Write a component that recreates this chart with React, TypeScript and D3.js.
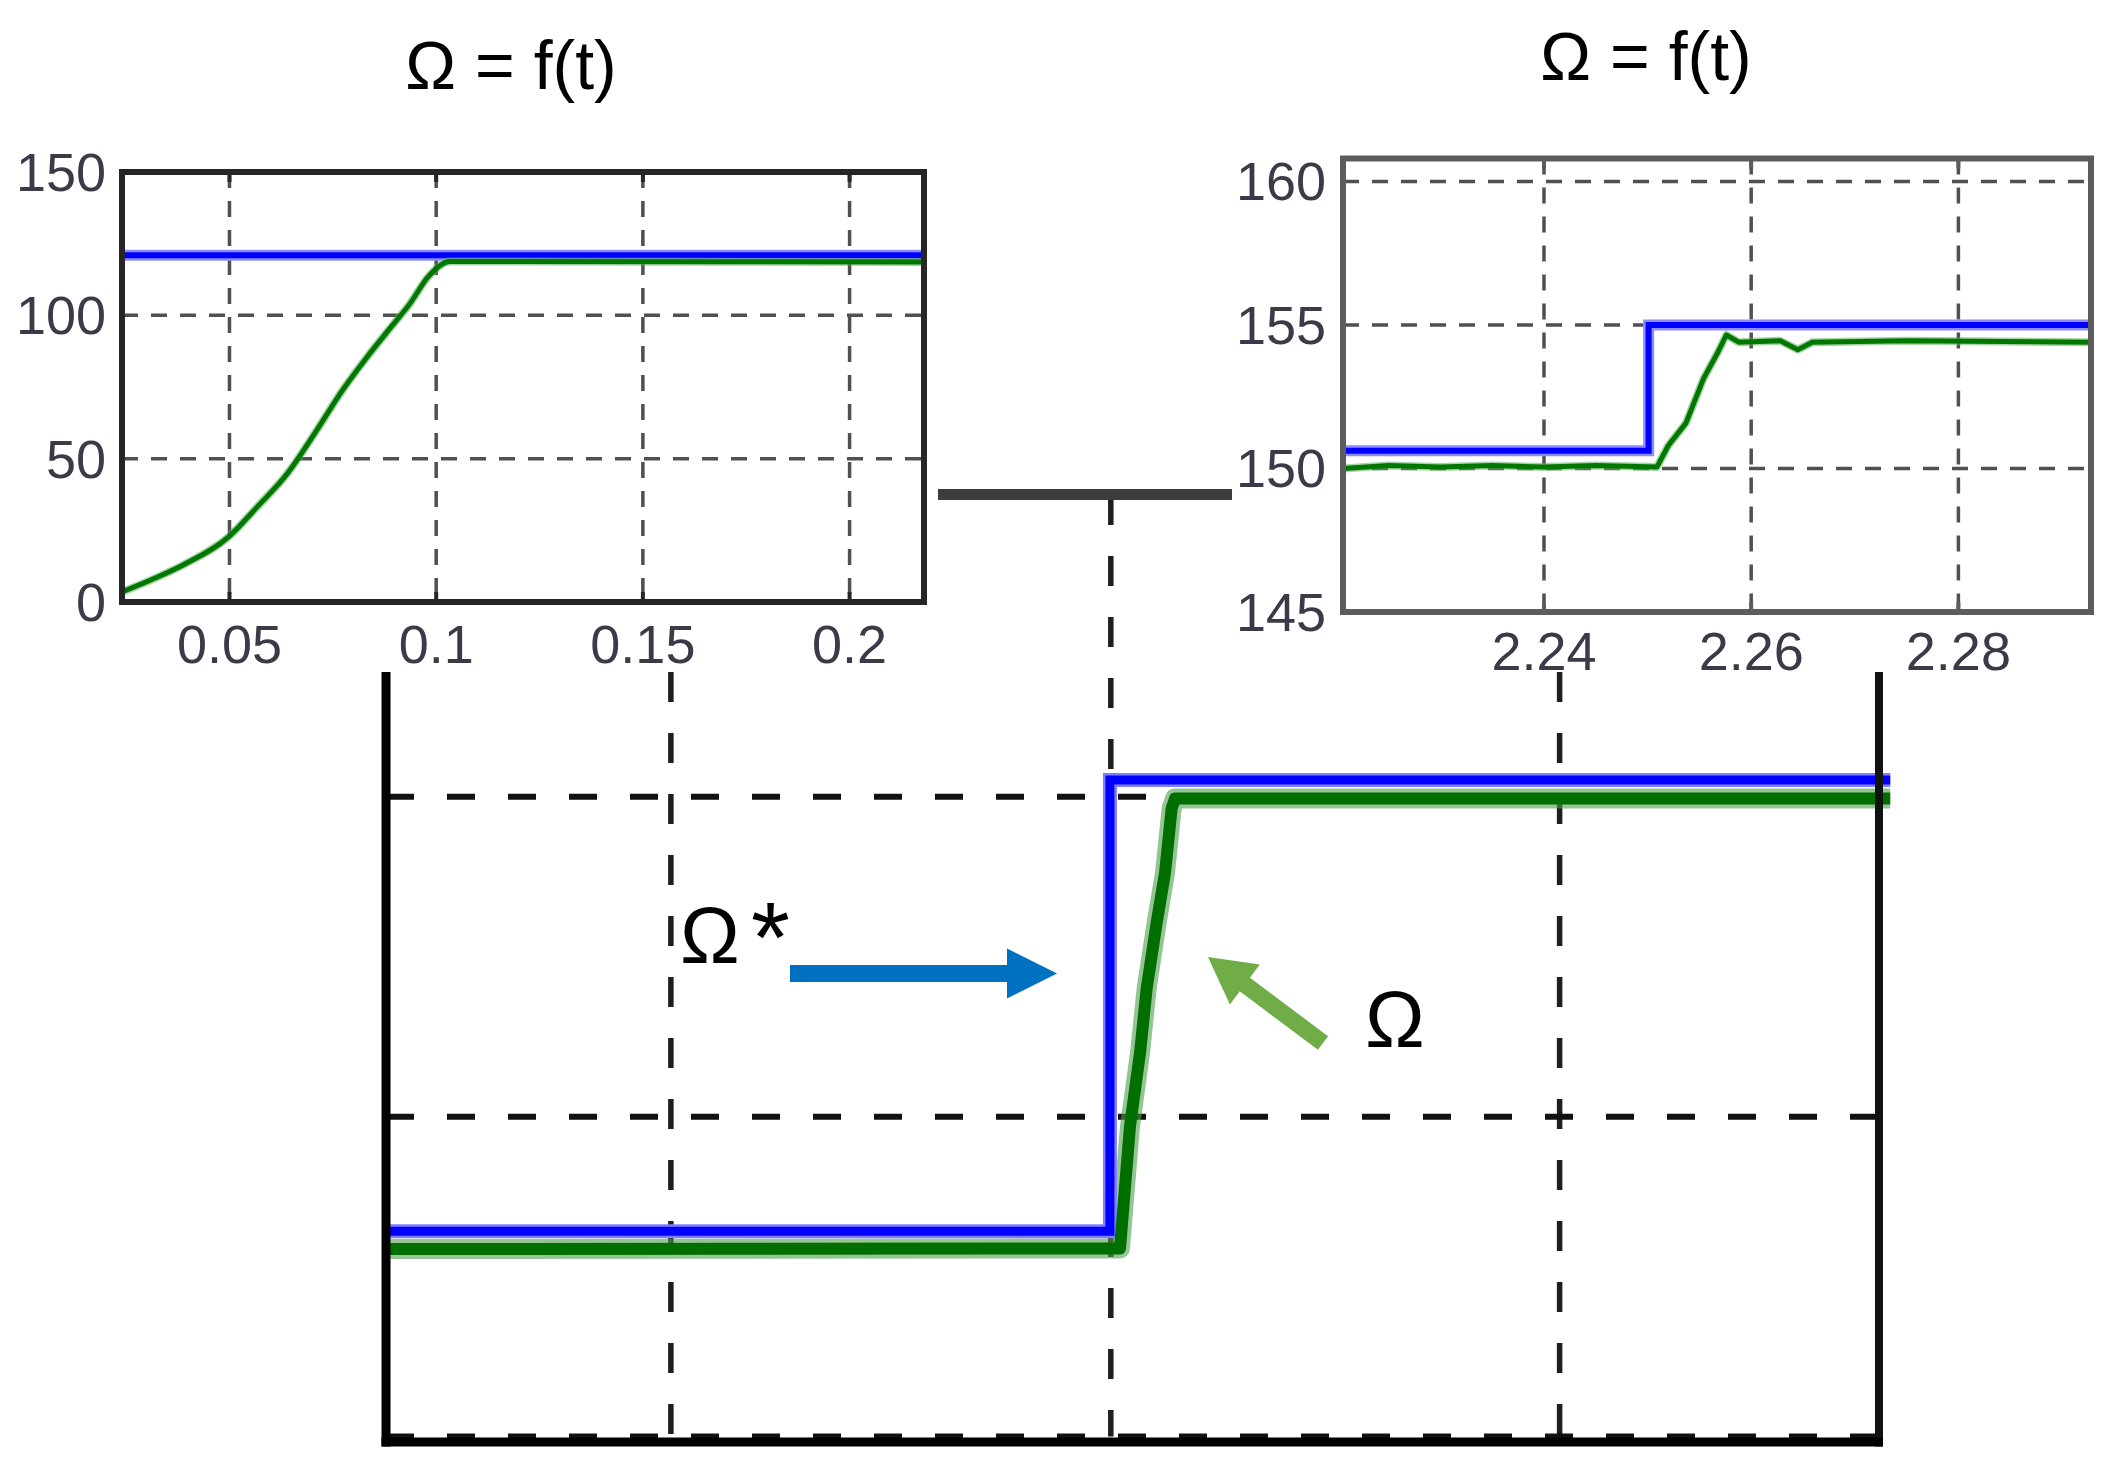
import React from 'react';
import * as d3 from 'd3';

const W = 2118;
const H = 1473;
const FONT = '"Liberation Sans", Arial, Helvetica, sans-serif';

// left inset: start-up 0 -> 120
const leftXTicks = [0.05, 0.1, 0.15, 0.2];
const leftYTicks = [0, 50, 100, 150];
const leftXDomain = [0.024, 0.218];
const leftYDomain = [0, 150];
const leftRefT = [0.024, 0.218];
const leftRefW = [121, 121];
const leftSpeedT = [0.024, 0.0315, 0.0389, 0.05, 0.0566, 0.0641, 0.0707, 0.0774, 0.0833, 0.0893, 0.0936, 0.0981, 0.1033, 0.218];
const leftSpeedW = [3.5, 8.0, 13.0, 23.0, 33, 45, 59, 74, 85.5, 96.3, 104, 113.5, 118.8, 118.6];

// right inset: step 150 -> 155
const rightXTicks = [2.24, 2.26, 2.28];
const rightYTicks = [145, 150, 155, 160];
const rightXDomain = [2.2206, 2.2928];
const rightYDomain = [145, 160.8];
const rightRefT = [2.2206, 2.2501, 2.2501, 2.2928];
const rightRefW = [150.62, 150.62, 155, 155];
const rightSpeedT = [2.2206, 2.225, 2.23, 2.235, 2.24, 2.245, 2.2509, 2.252, 2.2537, 2.2554, 2.2568, 2.2576, 2.2588, 2.2628, 2.2645, 2.2659, 2.275, 2.2928];
const rightSpeedW = [150.0, 150.1, 150.05, 150.1, 150.05, 150.1, 150.05, 150.8, 151.58, 153.13, 154.06, 154.65, 154.4, 154.45, 154.14, 154.4, 154.45, 154.4];

// main plot (no tick labels)
const mainXTicks = [1.755, 2.25, 2.755];
const mainYTicks = [145, 150, 155];
const mainXDomain = [1.433, 3.113];
const mainYDomain = [145, 155];
const mainRefT = [1.433, 2.249, 2.249, 3.127];
const mainRefW = [148.21, 148.21, 155.26, 155.26];
const mainSpeedT = [1.433, 2.2603, 2.2716, 2.2829, 2.2904, 2.3016, 2.311, 2.3185, 2.3222, 3.127];
const mainSpeedW = [147.93, 147.94, 149.85, 151.0, 152.01, 153.03, 153.81, 154.82, 154.97, 154.97];

const zip = (a: number[], b: number[]) => a.map((v, i) => [v, b[i]] as [number, number]);

type InsetProps = {
  box: { x0: number; x1: number; y0: number; y1: number };
  xDomain: number[]; yDomain: number[];
  xTicks: number[]; yTicks: number[];
  refT: number[]; refW: number[];
  spT: number[]; spW: number[];
  smooth: boolean;
  border: string;
  title: string; titleX: number; titleY: number;
  yLabelGap: number; xLabelY: number;
};

function Inset(p: InsetProps) {
  const { box } = p;
  const x = d3.scaleLinear().domain(p.xDomain).range([box.x0, box.x1]);
  const y = d3.scaleLinear().domain(p.yDomain).range([box.y1, box.y0]);
  const line = d3.line<[number, number]>().x(d => x(d[0])).y(d => y(d[1]));
  const ref = line(zip(p.refT, p.refW)) || '';
  const sp = (p.smooth ? line.curve(d3.curveMonotoneX) : line)(zip(p.spT, p.spW)) || '';
  return (
    <g>
      <rect x={box.x0} y={box.y0} width={box.x1 - box.x0} height={box.y1 - box.y0} fill="#fff" />
      {p.xTicks.map(t => (
        <line key={'gx' + t} x1={x(t)} x2={x(t)} y1={box.y0} y2={box.y1}
          stroke="#505050" strokeWidth={3.5} strokeDasharray="16 13" />
      ))}
      {p.yTicks.map(t => (
        <line key={'gy' + t} x1={box.x0} x2={box.x1} y1={y(t)} y2={y(t)}
          stroke="#505050" strokeWidth={3.5} strokeDasharray="16 13" />
      ))}
      <path d={ref} fill="none" stroke="#8c8cff" strokeWidth={11} />
      <path d={ref} fill="none" stroke="#0000ff" strokeWidth={6} />
      <path d={sp} fill="none" stroke="#5fae5f" strokeWidth={8} strokeOpacity={0.55} strokeLinejoin="round" />
      <path d={sp} fill="none" stroke="#007800" strokeWidth={5} strokeLinejoin="round" />
      <rect x={box.x0} y={box.y0} width={box.x1 - box.x0} height={box.y1 - box.y0}
        fill="none" stroke={p.border} strokeWidth={6} />
      {p.xTicks.map(t => (
        <g key={'tx' + t}>
          <line x1={x(t)} x2={x(t)} y1={box.y0} y2={box.y0 + 10} stroke={p.border} strokeWidth={4} />
          <line x1={x(t)} x2={x(t)} y1={box.y1} y2={box.y1 - 10} stroke={p.border} strokeWidth={4} />
          <text x={x(t)} y={p.xLabelY} textAnchor="middle" fontSize={54} fill="#3a3a48" fontFamily={FONT}>
            {String(t)}
          </text>
        </g>
      ))}
      {p.yTicks.map(t => (
        <text key={'ty' + t} x={box.x0 - p.yLabelGap} y={y(t) + 19} textAnchor="end"
          fontSize={54} fill="#3a3a48" fontFamily={FONT}>
          {String(t)}
        </text>
      ))}
      <text x={p.titleX} y={p.titleY} textAnchor="middle" fontSize={68} fill="#000" fontFamily={FONT}>
        {p.title}
      </text>
    </g>
  );
}

function arrowPoints(x0: number, y0: number, x1: number, y1: number, shaft: number, headLen: number, headHalf: number) {
  const dx = x1 - x0, dy = y1 - y0;
  const len = Math.hypot(dx, dy);
  const ux = dx / len, uy = dy / len;
  const px = -uy, py = ux;
  const bx = x1 - ux * headLen, by = y1 - uy * headLen;
  const s = shaft / 2;
  const pts = [
    [x0 + px * s, y0 + py * s],
    [bx + px * s, by + py * s],
    [bx + px * headHalf, by + py * headHalf],
    [x1, y1],
    [bx - px * headHalf, by - py * headHalf],
    [bx - px * s, by - py * s],
    [x0 - px * s, y0 - py * s],
  ];
  return pts.map(q => q.join(',')).join(' ');
}

export default function App() {
  const M = { x0: 384.7, x1: 1877.8, yTop: 672, yGridTop: 495, yBottom: 1436.6, yTopTick: 796.7 };
  const xM = d3.scaleLinear().domain(mainXDomain).range([M.x0, M.x1]);
  const yM = d3.scaleLinear().domain(mainYDomain).range([M.yBottom, M.yTopTick]);
  const lineM = d3.line<[number, number]>().x(d => xM(d[0])).y(d => yM(d[1]));
  const refPath = lineM(zip(mainRefT, mainRefW)) || '';
  const spPath = lineM(zip(mainSpeedT, mainSpeedW)) || '';
  const axisLeft = 386;
  const axisRight = 1879;
  const axisBottom = 1442;

  return (
    <svg width={W} height={H} viewBox={`0 0 ${W} ${H}`}
      style={{ position: 'absolute', left: 0, top: 0, background: '#fff' }}>
      <rect width={W} height={H} fill="#fff" />

      {/* main plot grid */}
      {mainXTicks.map((t, i) => (
        <line key={'mgx' + t} x1={xM(t)} x2={xM(t)} y1={i === 1 ? M.yGridTop : M.yTop} y2={M.yBottom}
          stroke="#1e1e1e" strokeWidth={5.5} strokeDasharray="30 31" />
      ))}
      {mainYTicks.map(t => (
        <line key={'mgy' + t} x1={axisLeft} x2={axisRight} y1={yM(t)} y2={yM(t)}
          stroke="#111" strokeWidth={6} strokeDasharray="28 33" />
      ))}

      {/* main series */}
      <path d={spPath} fill="none" stroke="#4f9e4f" strokeOpacity={0.6} strokeWidth={20} strokeLinejoin="round" />
      <path d={refPath} fill="none" stroke="#8080ff" strokeWidth={14} />
      <path d={refPath} fill="none" stroke="#0000ff" strokeWidth={9} />
      <path d={spPath} fill="none" stroke="#006f00" strokeWidth={12} strokeLinejoin="round" />

      {/* main axes */}
      <line x1={axisLeft} x2={axisLeft} y1={M.yTop} y2={axisBottom + 4.5} stroke="#000" strokeWidth={9} />
      <line x1={axisRight} x2={axisRight} y1={M.yTop} y2={axisBottom + 4.5} stroke="#111" strokeWidth={8} />
      <line x1={axisLeft - 4.5} x2={axisRight + 4} y1={axisBottom} y2={axisBottom} stroke="#000" strokeWidth={9} />

      {/* connector between insets */}
      <line x1={938} x2={1232} y1={494.5} y2={494.5} stroke="#3d3d3d" strokeWidth={11} />

      {/* annotations */}
      <text x={680} y={963} fontSize={80} fontFamily={FONT} fill="#000">Ω</text>
      <text x={751} y={972} fontSize={100} fontFamily={FONT} fill="#000">*</text>
      <polygon points={arrowPoints(790, 973.5, 1057, 973.5, 17, 50, 25)} fill="#0070c0" />
      <polygon points={arrowPoints(1323, 1043, 1208, 957, 17, 46, 25)} fill="#70ad47" />
      <text x={1365} y={1047} fontSize={80} fontFamily={FONT} fill="#000">Ω</text>

      <Inset
        box={{ x0: 122, x1: 924, y0: 172, y1: 602 }}
        xDomain={leftXDomain} yDomain={leftYDomain}
        xTicks={leftXTicks} yTicks={leftYTicks}
        refT={leftRefT} refW={leftRefW} spT={leftSpeedT} spW={leftSpeedW} smooth={true}
        border="#262626" title="Ω = f(t)" titleX={511} titleY={89}
        yLabelGap={16} xLabelY={663}
      />
      <Inset
        box={{ x0: 1343, x1: 2091, y0: 158.5, y1: 612 }}
        xDomain={rightXDomain} yDomain={rightYDomain}
        xTicks={rightXTicks} yTicks={rightYTicks}
        refT={rightRefT} refW={rightRefW} spT={rightSpeedT} spW={rightSpeedW} smooth={false}
        border="#5c5c5c" title="Ω = f(t)" titleX={1646} titleY={80}
        yLabelGap={17} xLabelY={670}
      />
    </svg>
  );
}
